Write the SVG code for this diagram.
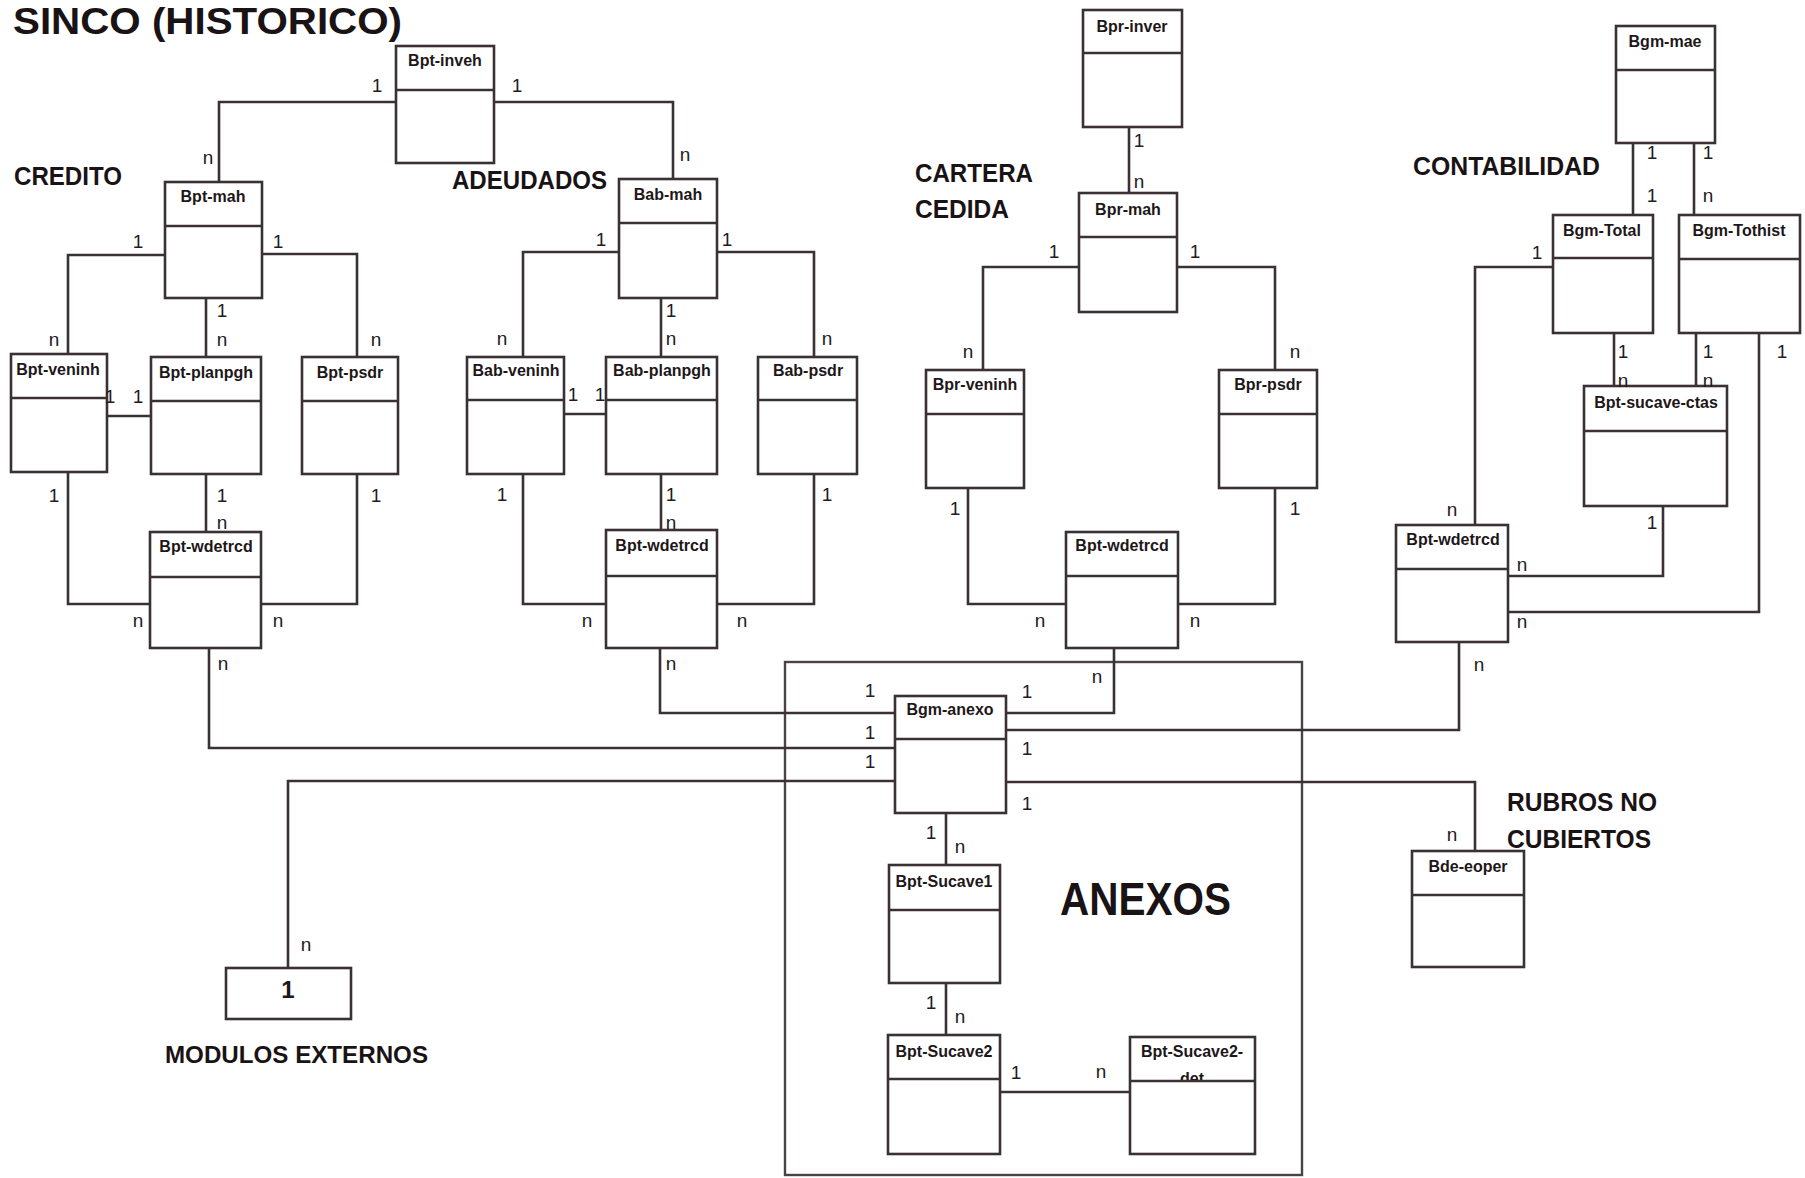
<svg xmlns="http://www.w3.org/2000/svg" width="1805" height="1178" viewBox="0 0 1805 1178">
  <style>
    .box { fill: #ffffff; stroke: #3a3135; stroke-width: 2.6; }
    .sep { stroke: #3a3135; stroke-width: 2.6; }
    .name { font-family: "Liberation Sans", Arial, sans-serif; font-weight: bold; font-size: 16px; text-anchor: middle; fill: #1e1719; }
    .card { font-family: "Liberation Sans", Arial, sans-serif; font-size: 19px; text-anchor: middle; fill: #231b1e; }
    .sec { font-family: "Liberation Sans", Arial, sans-serif; font-weight: bold; font-size: 25px; fill: #1a1315; }
    .conn { fill: none; stroke: #3a3135; stroke-width: 2.6; }
    .frame { fill: none; stroke: #4a4246; stroke-width: 2.4; }
  </style>
  <defs>
    <clipPath id="detHeader"><rect x="1130" y="1037" width="125" height="43"/></clipPath>
  </defs>
  <rect x="0" y="0" width="1805" height="1178" fill="#ffffff"/>

  <!-- section titles -->
  <g id="titles">
    <text class="sec" x="13" y="34" style="font-size:37px" textLength="389" lengthAdjust="spacingAndGlyphs">SINCO (HISTORICO)</text>
    <text class="sec" x="14" y="185" textLength="108" lengthAdjust="spacingAndGlyphs">CREDITO</text>
    <text class="sec" x="452" y="189" textLength="155" lengthAdjust="spacingAndGlyphs">ADEUDADOS</text>
    <text class="sec" x="915" y="182" textLength="118" lengthAdjust="spacingAndGlyphs">CARTERA</text>
    <text class="sec" x="915" y="218" textLength="94" lengthAdjust="spacingAndGlyphs">CEDIDA</text>
    <text class="sec" x="1413" y="175" textLength="187" lengthAdjust="spacingAndGlyphs">CONTABILIDAD</text>
    <text class="sec" x="1507" y="811" textLength="150" lengthAdjust="spacingAndGlyphs">RUBROS NO</text>
    <text class="sec" x="1507" y="848" textLength="144" lengthAdjust="spacingAndGlyphs">CUBIERTOS</text>
    <text class="sec" x="1060" y="915" style="font-size:46px" textLength="171" lengthAdjust="spacingAndGlyphs">ANEXOS</text>
    <text class="sec" x="165" y="1063" style="font-size:24px" textLength="263" lengthAdjust="spacingAndGlyphs">MODULOS EXTERNOS</text>
  </g>

  <!-- ANEXOS frame -->
  <rect id="anexos-frame" class="frame" x="785" y="662" width="517" height="513"/>

  <!-- connectors -->
  <g id="connectors">
    <polyline class="conn" points="396,102 219,102 219,182"/>
    <polyline class="conn" points="494,102 673,102 673,179"/>
    <polyline class="conn" points="165,255 68,255 68,354"/>
    <polyline class="conn" points="262,254 357,254 357,357"/>
    <polyline class="conn" points="206,298 206,357"/>
    <polyline class="conn" points="107,416 151,416"/>
    <polyline class="conn" points="68,472 68,604 150,604"/>
    <polyline class="conn" points="206,474 206,532"/>
    <polyline class="conn" points="357,474 357,604 261,604"/>
    <polyline class="conn" points="209,648 209,748 895,748"/>

    <polyline class="conn" points="619,252 523,252 523,357"/>
    <polyline class="conn" points="717,252 814,252 814,357"/>
    <polyline class="conn" points="661,298 661,357"/>
    <polyline class="conn" points="564,414 606,414"/>
    <polyline class="conn" points="523,474 523,604 606,604"/>
    <polyline class="conn" points="661,474 661,530"/>
    <polyline class="conn" points="814,474 814,604 717,604"/>
    <polyline class="conn" points="660,648 660,713 895,713"/>

    <polyline class="conn" points="1129,127 1129,193"/>
    <polyline class="conn" points="1079,267 983,267 983,370"/>
    <polyline class="conn" points="1177,267 1275,267 1275,370"/>
    <polyline class="conn" points="968,488 968,604 1066,604"/>
    <polyline class="conn" points="1275,488 1275,604 1178,604"/>
    <polyline class="conn" points="1114,648 1114,713 1006,713"/>

    <polyline class="conn" points="1633,143 1633,215"/>
    <polyline class="conn" points="1694,143 1694,215"/>
    <polyline class="conn" points="1553,267 1475,267 1475,525"/>
    <polyline class="conn" points="1614,333 1614,386"/>
    <polyline class="conn" points="1696,333 1696,386"/>
    <polyline class="conn" points="1759,333 1759,612 1508,612"/>
    <polyline class="conn" points="1663,506 1663,576 1508,576"/>
    <polyline class="conn" points="1459,642 1459,730 1006,730"/>
    <polyline class="conn" points="1006,782 1475,782 1475,851"/>
    <polyline class="conn" points="895,781 288,781 288,968"/>

    <polyline class="conn" points="946,813 946,865"/>
    <polyline class="conn" points="946,983 946,1035"/>
    <polyline class="conn" points="1000,1092 1130,1092"/>
  </g>

  <!-- entities -->
  <g id="bpt-inveh"><rect class="box" x="396" y="46" width="98" height="117"/><line class="sep" x1="396" y1="90" x2="494" y2="90"/><text class="name" x="445" y="66">Bpt-inveh</text></g>
  <g id="bpt-mah"><rect class="box" x="165" y="182" width="97" height="116"/><line class="sep" x1="165" y1="226" x2="262" y2="226"/><text class="name" x="213" y="202">Bpt-mah</text></g>
  <g id="bpt-veninh"><rect class="box" x="11" y="354" width="96" height="118"/><line class="sep" x1="11" y1="398" x2="107" y2="398"/><text class="name" x="58" y="375">Bpt-veninh</text></g>
  <g id="bpt-planpgh"><rect class="box" x="151" y="357" width="110" height="117"/><line class="sep" x1="151" y1="401" x2="261" y2="401"/><text class="name" x="206" y="378">Bpt-planpgh</text></g>
  <g id="bpt-psdr"><rect class="box" x="302" y="357" width="96" height="117"/><line class="sep" x1="302" y1="401" x2="398" y2="401"/><text class="name" x="350" y="378">Bpt-psdr</text></g>
  <g id="bpt-wdetrcd-credito"><rect class="box" x="150" y="532" width="111" height="116"/><line class="sep" x1="150" y1="577" x2="261" y2="577"/><text class="name" x="206" y="552">Bpt-wdetrcd</text></g>

  <g id="bab-mah"><rect class="box" x="619" y="179" width="98" height="119"/><line class="sep" x1="619" y1="223" x2="717" y2="223"/><text class="name" x="668" y="200">Bab-mah</text></g>
  <g id="bab-veninh"><rect class="box" x="467" y="357" width="97" height="117"/><line class="sep" x1="467" y1="400" x2="564" y2="400"/><text class="name" x="516" y="376">Bab-veninh</text></g>
  <g id="bab-planpgh"><rect class="box" x="606" y="357" width="111" height="117"/><line class="sep" x1="606" y1="400" x2="717" y2="400"/><text class="name" x="662" y="376">Bab-planpgh</text></g>
  <g id="bab-psdr"><rect class="box" x="758" y="357" width="99" height="117"/><line class="sep" x1="758" y1="400" x2="857" y2="400"/><text class="name" x="808" y="376">Bab-psdr</text></g>
  <g id="bpt-wdetrcd-adeudados"><rect class="box" x="606" y="530" width="111" height="118"/><line class="sep" x1="606" y1="576" x2="717" y2="576"/><text class="name" x="662" y="551">Bpt-wdetrcd</text></g>

  <g id="bpr-inver"><rect class="box" x="1083" y="10" width="99" height="117"/><line class="sep" x1="1083" y1="53" x2="1182" y2="53"/><text class="name" x="1132" y="32">Bpr-inver</text></g>
  <g id="bpr-mah"><rect class="box" x="1079" y="193" width="98" height="119"/><line class="sep" x1="1079" y1="237" x2="1177" y2="237"/><text class="name" x="1128" y="215">Bpr-mah</text></g>
  <g id="bpr-veninh"><rect class="box" x="926" y="370" width="98" height="118"/><line class="sep" x1="926" y1="414" x2="1024" y2="414"/><text class="name" x="975" y="390">Bpr-veninh</text></g>
  <g id="bpr-psdr"><rect class="box" x="1219" y="370" width="98" height="118"/><line class="sep" x1="1219" y1="414" x2="1317" y2="414"/><text class="name" x="1268" y="390">Bpr-psdr</text></g>
  <g id="bpt-wdetrcd-cartera"><rect class="box" x="1066" y="532" width="112" height="116"/><line class="sep" x1="1066" y1="576" x2="1178" y2="576"/><text class="name" x="1122" y="551">Bpt-wdetrcd</text></g>

  <g id="bgm-mae"><rect class="box" x="1616" y="26" width="99" height="117"/><line class="sep" x1="1616" y1="70" x2="1715" y2="70"/><text class="name" x="1665" y="47">Bgm-mae</text></g>
  <g id="bgm-total"><rect class="box" x="1553" y="215" width="100" height="118"/><line class="sep" x1="1553" y1="258" x2="1653" y2="258"/><text class="name" x="1602" y="236">Bgm-Total</text></g>
  <g id="bgm-tothist"><rect class="box" x="1679" y="215" width="121" height="118"/><line class="sep" x1="1679" y1="259" x2="1800" y2="259"/><text class="name" x="1739" y="236">Bgm-Tothist</text></g>
  <g id="bpt-sucave-ctas"><rect class="box" x="1584" y="386" width="143" height="120"/><line class="sep" x1="1584" y1="431" x2="1727" y2="431"/><text class="name" x="1656" y="408">Bpt-sucave-ctas</text></g>
  <g id="bpt-wdetrcd-contabilidad"><rect class="box" x="1396" y="525" width="112" height="117"/><line class="sep" x1="1396" y1="569" x2="1508" y2="569"/><text class="name" x="1453" y="545">Bpt-wdetrcd</text></g>
  <g id="bde-eoper"><rect class="box" x="1412" y="851" width="112" height="116"/><line class="sep" x1="1412" y1="895" x2="1524" y2="895"/><text class="name" x="1468" y="872">Bde-eoper</text></g>

  <g id="bgm-anexo"><rect class="box" x="895" y="696" width="111" height="117"/><line class="sep" x1="895" y1="739" x2="1006" y2="739"/><text class="name" x="950" y="715">Bgm-anexo</text></g>
  <g id="bpt-sucave1"><rect class="box" x="889" y="865" width="111" height="118"/><line class="sep" x1="889" y1="910" x2="1000" y2="910"/><text class="name" x="944" y="887">Bpt-Sucave1</text></g>
  <g id="bpt-sucave2"><rect class="box" x="888" y="1035" width="112" height="119"/><line class="sep" x1="888" y1="1079" x2="1000" y2="1079"/><text class="name" x="944" y="1057">Bpt-Sucave2</text></g>
  <g id="bpt-sucave2-det"><rect class="box" x="1130" y="1037" width="125" height="117"/><text class="name" x="1192" y="1057">Bpt-Sucave2-</text><text class="name" x="1192" y="1084" clip-path="url(#detHeader)">det</text><line class="sep" x1="1130" y1="1081" x2="1255" y2="1081"/></g>

  <g id="modulos-externos"><rect class="box" x="226" y="968" width="125" height="51"/><text class="name" x="288" y="998" style="font-size:24px">1</text></g>

  <!-- cardinalities -->
  <g id="cardinalities">
    <text class="card" x="377" y="92">1</text>
    <text class="card" x="517" y="92">1</text>
    <text class="card" x="208" y="164">n</text>
    <text class="card" x="685" y="161">n</text>

    <text class="card" x="138" y="248">1</text>
    <text class="card" x="278" y="248">1</text>
    <text class="card" x="222" y="317">1</text>
    <text class="card" x="54" y="346">n</text>
    <text class="card" x="222" y="346">n</text>
    <text class="card" x="376" y="346">n</text>
    <text class="card" x="110" y="403">1</text>
    <text class="card" x="138" y="403">1</text>
    <text class="card" x="54" y="502">1</text>
    <text class="card" x="222" y="502">1</text>
    <text class="card" x="376" y="502">1</text>
    <text class="card" x="222" y="529">n</text>
    <text class="card" x="138" y="627">n</text>
    <text class="card" x="278" y="627">n</text>
    <text class="card" x="223" y="670">n</text>

    <text class="card" x="601" y="246">1</text>
    <text class="card" x="727" y="246">1</text>
    <text class="card" x="671" y="317">1</text>
    <text class="card" x="502" y="345">n</text>
    <text class="card" x="671" y="345">n</text>
    <text class="card" x="827" y="345">n</text>
    <text class="card" x="573" y="401">1</text>
    <text class="card" x="600" y="401">1</text>
    <text class="card" x="502" y="501">1</text>
    <text class="card" x="671" y="501">1</text>
    <text class="card" x="827" y="501">1</text>
    <text class="card" x="671" y="529">n</text>
    <text class="card" x="587" y="627">n</text>
    <text class="card" x="742" y="627">n</text>
    <text class="card" x="671" y="670">n</text>

    <text class="card" x="1139" y="147">1</text>
    <text class="card" x="1139" y="188">n</text>
    <text class="card" x="1054" y="258">1</text>
    <text class="card" x="1195" y="258">1</text>
    <text class="card" x="968" y="358">n</text>
    <text class="card" x="1295" y="358">n</text>
    <text class="card" x="955" y="515">1</text>
    <text class="card" x="1295" y="515">1</text>
    <text class="card" x="1040" y="627">n</text>
    <text class="card" x="1195" y="627">n</text>
    <text class="card" x="1097" y="683">n</text>

    <text class="card" x="870" y="697">1</text>
    <text class="card" x="870" y="739">1</text>
    <text class="card" x="870" y="768">1</text>
    <text class="card" x="1027" y="698">1</text>
    <text class="card" x="1027" y="755">1</text>
    <text class="card" x="1027" y="810">1</text>
    <text class="card" x="931" y="839">1</text>
    <text class="card" x="960" y="853">n</text>
    <text class="card" x="931" y="1009">1</text>
    <text class="card" x="960" y="1023">n</text>
    <text class="card" x="1016" y="1079">1</text>
    <text class="card" x="1101" y="1078">n</text>
    <text class="card" x="306" y="951">n</text>

    <text class="card" x="1652" y="159">1</text>
    <text class="card" x="1708" y="159">1</text>
    <text class="card" x="1652" y="202">1</text>
    <text class="card" x="1708" y="202">n</text>
    <text class="card" x="1537" y="259">1</text>
    <text class="card" x="1623" y="358">1</text>
    <text class="card" x="1708" y="358">1</text>
    <text class="card" x="1782" y="358">1</text>
    <text class="card" x="1623" y="387">n</text>
    <text class="card" x="1708" y="387">n</text>
    <text class="card" x="1652" y="529">1</text>
    <text class="card" x="1452" y="516">n</text>
    <text class="card" x="1522" y="571">n</text>
    <text class="card" x="1522" y="628">n</text>
    <text class="card" x="1479" y="671">n</text>
    <text class="card" x="1452" y="841">n</text>
  </g>
</svg>
